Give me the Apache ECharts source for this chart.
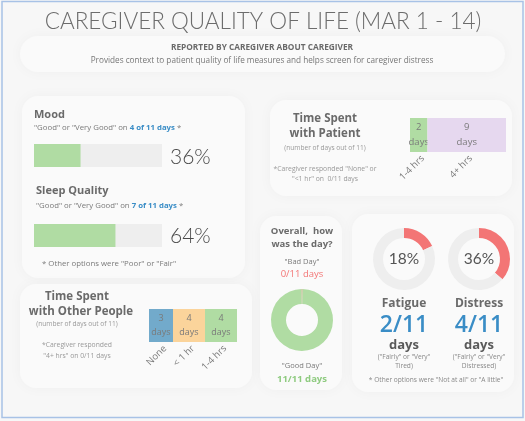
<!DOCTYPE html>
<html><head><meta charset="utf-8">
<script src="https://cdn.jsdelivr.net/npm/echarts@6/dist/echarts.min.js"></script>
<style>html,body{margin:0;padding:0;background:#f7f7f7}#c{width:525px;height:421px}</style>
</head><body><div id="c"></div>
<script>
// ---- data ----
const totalDays = 11;
const qolCategories = ['Mood', 'Sleep Quality'];
const qolGoodDays = [4, 7];
const patientCategories = ['1-4 hrs', '4+ hrs'];
const patientDays = [2, 9];
const othersCategories = ['None', '< 1 hr', '1-4 hrs'];
const othersDays = [3, 4, 4];
const overallCategories = ['Bad Day', 'Good Day'];
const overallDays = [0, 11];
const symptomCategories = ['Fatigue', 'Distress'];
const symptomDays = [2, 4];
const symptomNotes = [['("Fairly" or "Very"', 'Tired)'], ['("Fairly" or "Very"', 'Distressed)']];

const pct = v => Math.round(v / totalDays * 100) + '%';
const GREEN = '#b0dca3', TRACK = '#eeeeee', BLUE = '#3a8dc6', RED = '#f37575', PURPLE = '#e6d8ef', ORANGE = '#fbd49b', SBLUE = '#72aacb';
const patientColors = [GREEN, PURPLE];
const othersColors = [SBLUE, ORANGE, GREEN];

const chart = echarts.init(document.getElementById('c'), null, {renderer: 'canvas'});

function T(x, y, text, size, color, weight, align, family, extra) {
  return {
    type: 'text', x: x, y: y, silent: true,
    style: Object.assign({text: text, fontSize: size, fill: color, fontWeight: weight || 'normal',
      fontFamily: family || 'Open Sans', align: align || 'left', verticalAlign: 'middle'}, extra || {})
  };
}
function card(x, y, w, h, r) {
  return {type: 'rect', shape: {x: x, y: y, width: w, height: h, r: r || 16}, silent: true,
    style: {fill: '#fafafa', shadowBlur: 14, shadowColor: 'rgba(0,0,0,0.035)'}};
}

function segments(days) {
  let acc = 0;
  return days.map(v => { const s = acc; acc += v; return [s, acc, v]; });
}
function segRender(cats, colors, fs) {
  return function (params, api) {
    const s = api.value(0), e = api.value(1), v = api.value(2);
    const p0 = api.coord([s, 0]), p1 = api.coord([e, 0]);
    const h = api.size([0, 1])[1];
    const cx = (p0[0] + p1[0]) / 2;
    return {type: 'group', children: [
      {type: 'rect', shape: {x: p0[0], y: p0[1] - h / 2, width: p1[0] - p0[0], height: h},
        style: {fill: colors[params.dataIndex]}},
      {type: 'text', x: cx, y: p0[1], style: {text: v + '\ndays', fontSize: fs, lineHeight: fs + 5,
        fill: '#7a7a7a', fontFamily: 'Open Sans', align: 'center', verticalAlign: 'middle'}},
      {type: 'text', x: cx + 4, y: p0[1] + h / 2 + 5, rotation: Math.PI / 4,
        style: {text: cats[params.dataIndex], fontSize: 9.5, fill: '#7a7a7a', fontFamily: 'Open Sans',
          align: 'right', verticalAlign: 'middle'}}
    ]};
  };
}

const graphics = [
  {type: 'rect', shape: {x: 2, y: 1.5, width: 521, height: 416}, silent: true,
    style: {fill: 'none', stroke: '#a8c2e6', lineWidth: 1.5}},
  card(20, 36, 485, 36, 18),
  card(22, 96, 223, 182),
  card(270, 100, 242, 96),
  card(20, 284, 232, 104),
  card(260, 216, 82, 174),
  card(352, 214, 162, 178),
  T(263, 22, 'CAREGIVER QUALITY OF LIFE (MAR 1 - 14)', 22.5, '#6c6c6c', 300, 'center', 'Lato'),
  T(262, 48, 'REPORTED BY CAREGIVER ABOUT CAREGIVER', 8.3, '#6a6a6a', 'bold', 'center'),
  T(262, 61, 'Provides context to patient quality of life measures and helps screen for caregiver distress', 8.2, '#777', 'normal', 'center'),
  T(34, 115, qolCategories[0], 11, '#6a6a6a', 'bold'),
  T(34, 128, '"Good" or "Very Good" on {b|' + qolGoodDays[0] + ' of ' + totalDays + ' days} *', 7.8, '#7a7a7a', 'normal', 'left', 'Open Sans',
    {rich: {b: {fontSize: 7.8, fill: BLUE, fontWeight: 'bold', fontFamily: 'Open Sans'}}}),
  T(170, 157, pct(qolGoodDays[0]), 21, '#4a4a4a', 300, 'left', 'Lato'),
  T(36, 191, qolCategories[1], 11, '#6a6a6a', 'bold'),
  T(36, 206, '"Good" or "Very Good" on {b|' + qolGoodDays[1] + ' of ' + totalDays + ' days} *', 7.8, '#7a7a7a', 'normal', 'left', 'Open Sans',
    {rich: {b: {fontSize: 7.8, fill: BLUE, fontWeight: 'bold', fontFamily: 'Open Sans'}}}),
  T(170, 236, pct(qolGoodDays[1]), 21, '#4a4a4a', 300, 'left', 'Lato'),
  T(42, 264, '* Other options were "Poor" or "Fair"', 7.8, '#7a7a7a'),
  // patient
  T(325, 119, 'Time Spent', 11.5, '#6a6a6a', 'bold', 'center'),
  T(325, 134, 'with Patient', 11.5, '#6a6a6a', 'bold', 'center'),
  T(325, 148, '(number of days out of ' + totalDays + ')', 6.6, '#999', 'normal', 'center'),
  T(325, 169, '*Caregiver responded "None" or', 6.8, '#999', 'normal', 'center'),
  T(325, 179, '"<1 hr" on  0/' + totalDays + ' days', 6.8, '#999', 'normal', 'center'),
  // others
  T(77, 297, 'Time Spent', 11.5, '#6a6a6a', 'bold', 'center'),
  T(81, 312, 'with Other People', 11.5, '#6a6a6a', 'bold', 'center'),
  T(77, 324, '(number of days out of ' + totalDays + ')', 6.6, '#999', 'normal', 'center'),
  T(77, 345, '*Caregiver responded', 6.8, '#999', 'normal', 'center'),
  T(77, 356, '"4+ hrs" on 0/' + totalDays + ' days', 6.8, '#999', 'normal', 'center'),
  // overall
  T(302, 231, 'Overall,  how', 9.5, '#6a6a6a', 'bold', 'center'),
  T(302, 244, 'was the day?', 9.5, '#6a6a6a', 'bold', 'center'),
  T(302, 262, '"' + overallCategories[0] + '"', 7.5, '#7a7a7a', 'normal', 'center'),
  T(302, 274, overallDays[0] + '/' + totalDays + ' days', 9.5, RED, 'normal', 'center'),
  T(302, 366, '"' + overallCategories[1] + '"', 7.5, '#7a7a7a', 'normal', 'center'),
  T(302, 379, overallDays[1] + '/' + totalDays + ' days', 9.5, '#8fcb80', 'bold', 'center'),
  T(436, 380, '* Other options were "Not at all" or "A little"', 6.6, '#888', 'normal', 'center')
];
const symX = [404, 479];
symptomCategories.forEach((c, i) => {
  const x = symX[i];
  graphics.push(T(x, 259, pct(symptomDays[i]), 15.5, '#555', 'normal', 'center', 'Lato'));
  graphics.push(T(x, 304, c, 12, '#6a6a6a', 'bold', 'center'));
  graphics.push(T(x, 325, symptomDays[i] + '/' + totalDays, 23, BLUE, 600, 'center'));
  graphics.push(T(x, 345, 'days', 13, '#5a5a5a', 'bold', 'center'));
  graphics.push(T(x, 357, symptomNotes[i][0], 6.6, '#888', 'normal', 'center'));
  graphics.push(T(x, 366, symptomNotes[i][1], 6.6, '#888', 'normal', 'center'));
});

const grids = [
  {left: 34, top: 144, width: 128, height: 23},
  {left: 34, top: 224, width: 128, height: 23},
  {left: 410, top: 118, width: 96, height: 34},
  {left: 149, top: 309, width: 88, height: 33}
];
const xAxes = grids.map((g, i) => ({type: 'value', gridIndex: i, min: 0, max: totalDays, show: false}));
const yAxes = grids.map((g, i) => ({type: 'category', gridIndex: i, data: [''], show: false}));

const series = [];
qolGoodDays.forEach((v, i) => {
  series.push({type: 'bar', xAxisIndex: i, yAxisIndex: i, data: [v], barWidth: '100%',
    itemStyle: {color: GREEN}, showBackground: true, backgroundStyle: {color: TRACK}, silent: true, animation: false});
});
series.push({type: 'custom', xAxisIndex: 2, yAxisIndex: 2, data: segments(patientDays).map(s => s.concat(0)),
  encode: {x: [0, 1], y: 3}, renderItem: segRender(patientCategories, patientColors, 9.5), silent: true, animation: false});
series.push({type: 'custom', xAxisIndex: 3, yAxisIndex: 3, data: segments(othersDays).map(s => s.concat(0)),
  encode: {x: [0, 1], y: 3}, renderItem: segRender(othersCategories, othersColors, 9), silent: true, animation: false});
series.push({type: 'pie', center: [302, 320], radius: [16, 31], startAngle: 91, minAngle: 2, silent: true, animation: false,
  label: {show: false}, labelLine: {show: false},
  data: overallCategories.map((c, i) => ({name: c, value: overallDays[i], itemStyle: {color: i === 0 ? '#d9907a' : GREEN}}))});
symptomCategories.forEach((c, i) => {
  series.push({type: 'pie', center: [symX[i], 259], radius: [21, 31], startAngle: 90, silent: true, animation: false,
    label: {show: false}, labelLine: {show: false},
    data: [{name: c, value: symptomDays[i], itemStyle: {color: RED}},
           {name: 'other', value: totalDays - symptomDays[i], itemStyle: {color: TRACK}}]});
});

chart.setOption({
  backgroundColor: '#f7f7f7',
  animation: false,
  grid: grids,
  xAxis: xAxes,
  yAxis: yAxes,
  graphic: graphics,
  series: series
});
</script></body></html>
